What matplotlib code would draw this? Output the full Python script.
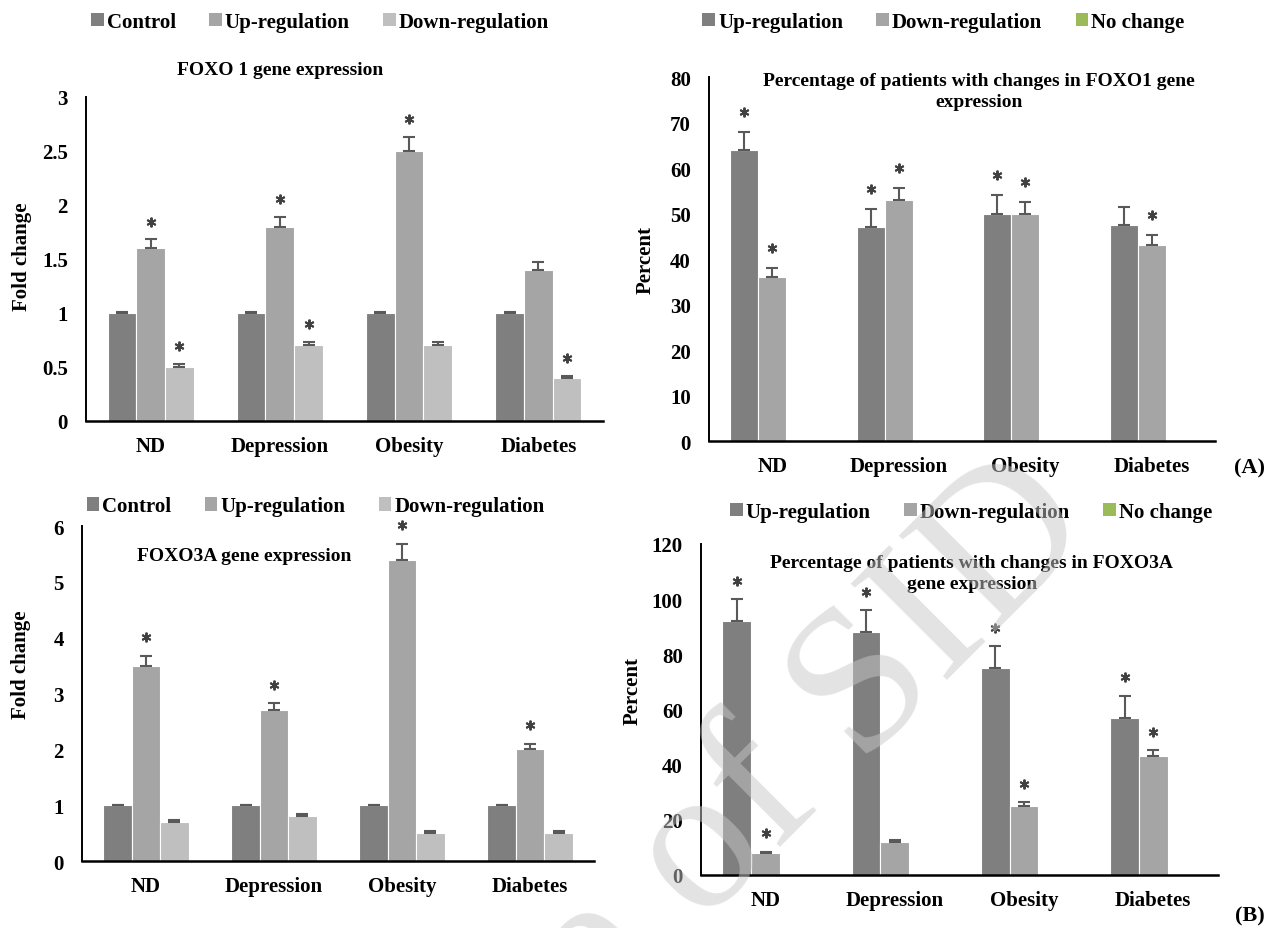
import matplotlib.pyplot as plt
import numpy as np
from matplotlib.patches import Patch

plt.rcParams['font.family'] = ['Liberation Serif', 'DejaVu Serif']
plt.rcParams['font.weight'] = 'bold'

groups = ["ND", "Depression", "Obesity", "Diabetes"]

# FOXO1 fold change
foxo1_control = [1, 1, 1, 1]
foxo1_up = [1.6, 1.8, 2.5, 1.4]
foxo1_down = [0.5, 0.7, 0.7, 0.4]
foxo1_control_err = [0.01, 0.01, 0.01, 0.01]
foxo1_up_err = [0.08, 0.09, 0.13, 0.07]
foxo1_down_err = [0.03, 0.03, 0.03, 0.02]
foxo1_stars = [[0, 0, 0, 0], [1, 1, 1, 0], [1, 1, 0, 1]]

# FOXO1 percent of patients
pct1_up = [64, 47, 50, 47.5]
pct1_down = [36, 53, 50, 43]
pct1_none = [0, 0, 0, 0]
pct1_up_err = [4, 4, 4, 4]
pct1_down_err = [2, 2.6, 2.5, 2.2]
pct1_stars = [[1, 1, 1, 0], [1, 1, 1, 1], [0, 0, 0, 0]]

# FOXO3A fold change
foxo3_control = [1, 1, 1, 1]
foxo3_up = [3.5, 2.7, 5.4, 2.0]
foxo3_down = [0.7, 0.8, 0.5, 0.5]
foxo3_control_err = [0.01, 0.01, 0.01, 0.01]
foxo3_up_err = [0.18, 0.13, 0.28, 0.1]
foxo3_down_err = [0.04, 0.04, 0.03, 0.03]
foxo3_stars = [[0, 0, 0, 0], [1, 1, 1, 1], [0, 0, 0, 0]]

# FOXO3A percent of patients
pct3_up = [92, 88, 75, 57]
pct3_down = [8, 12, 25, 43]
pct3_none = [0, 0, 0, 0]
pct3_up_err = [8, 8, 8, 8]
pct3_down_err = [0.5, 0.7, 1.5, 2.2]
pct3_stars = [[1, 1, 1, 1], [1, 0, 1, 1], [0, 0, 0, 0]]

fold_names = ["Control", "Up-regulation", "Down-regulation"]
fold_colors = ["#7f7f7f", "#a5a5a5", "#bfbfbf"]
pct_names = ["Up-regulation", "Down-regulation", "No change"]
pct_colors = ["#7f7f7f", "#a5a5a5", "#9bbb59"]

FS = 15


def draw_panel(fig, rect, series, errs, stars, names, colors, ymax, step,
               ylabel, ylabel_xy, title, title_xy, legend_xy, ticklabels=None):
    ax = fig.add_axes(rect)
    x = np.arange(len(groups))
    width = 1 / 4.5
    for i, (vals, err, st) in enumerate(zip(series, errs, stars)):
        pos = x + (i - 1) * width
        ax.bar(pos, vals, width, color=colors[i], edgecolor="white",
               linewidth=0.8, zorder=2)
        if err is not None:
            ax.errorbar(pos, vals, yerr=[np.zeros(len(err)), err], fmt="none",
                        ecolor="#595959", elinewidth=1.5, capsize=4,
                        capthick=1.5, zorder=3)
            tops = np.array(vals) + np.array(err) + ymax * 0.055
            sel = np.array(st, dtype=bool)
            ax.plot(pos[sel], tops[sel], linestyle="none", marker=(6, 2, 0),
                    markersize=7, mew=1.4, color="#404040", zorder=4,
                    clip_on=False)

    ax.set_xlim(-0.5, len(groups) - 0.5)
    ax.set_ylim(0, ymax)
    ax.set_yticks(np.arange(0, ymax + step / 2, step))
    if ticklabels is not None:
        ax.set_yticklabels(ticklabels)
    ax.set_xticks(x)
    ax.set_xticklabels(groups)
    ax.tick_params(axis="both", length=0, labelsize=FS)
    ax.tick_params(axis="x", pad=11)
    ax.tick_params(axis="y", pad=13)
    for s in ["top", "right"]:
        ax.spines[s].set_visible(False)
    ax.spines["left"].set_linewidth(1.4)
    ax.spines["bottom"].set_linewidth(1.8)
    ax.set_ylabel(ylabel, fontsize=FS, fontweight="bold")
    ax.yaxis.set_label_coords(*ylabel_xy)
    ax.text(title_xy[0], title_xy[1], title, transform=ax.transAxes,
            ha="center", va="center", fontsize=14, fontweight="bold",
            linespacing=1.35)

    handles = [Patch(facecolor=c, edgecolor="none") for c in colors]
    fig.legend(handles, names, loc="center", bbox_to_anchor=legend_xy,
               ncol=3, frameon=False, fontsize=FS, handlelength=0.6,
               handleheight=0.6, handletextpad=0.15, columnspacing=1.6)
    return ax


fig = plt.figure(figsize=(12.68, 9.29), dpi=100)

draw_panel(fig, [0.0678, 0.5458, 0.4077, 0.3488],
           [foxo1_control, foxo1_up, foxo1_down],
           [foxo1_control_err, foxo1_up_err, foxo1_down_err], foxo1_stars,
           fold_names, fold_colors, 3, 0.5, "Fold change", (-0.105, 0.51),
           "FOXO 1 gene expression", (0.375, 1.086), (0.2525, 0.975),
           ["0", "0.5", "1", "1.5", "2", "2.5", "3"])

draw_panel(fig, [0.5591, 0.5242, 0.3991, 0.3918],
           [pct1_up, pct1_down, pct1_none],
           [pct1_up_err, pct1_down_err, None], pct1_stars,
           pct_names, pct_colors, 80, 10, "Percent", (-0.105, 0.5),
           "Percentage of patients with changes in FOXO1 gene\nexpression",
           (0.534, 0.962), (0.744, 0.975))

draw_panel(fig, [0.0647, 0.0721, 0.4038, 0.3606],
           [foxo3_control, foxo3_up, foxo3_down],
           [foxo3_control_err, foxo3_up_err, foxo3_down_err], foxo3_stars,
           fold_names, fold_colors, 6, 1, "Fold change", (-0.1, 0.59),
           "FOXO3A gene expression", (0.316, 0.913), (0.249, 0.454))

draw_panel(fig, [0.5528, 0.0571, 0.4077, 0.3563],
           [pct3_up, pct3_down, pct3_none],
           [pct3_up_err, pct3_down_err, None], pct3_stars,
           pct_names, pct_colors, 120, 20, "Percent", (-0.113, 0.56),
           "Percentage of patients with changes in FOXO3A\ngene expression",
           (0.524, 0.912), (0.766, 0.448))

fig.text(0.9858, 1 - 468 / 929, "(A)", ha="center", va="center",
         fontsize=16, fontweight="bold")
fig.text(0.9858, 1 - 916 / 929, "(B)", ha="center", va="center",
         fontsize=16, fontweight="bold")

# faint watermark over the lower panels
fig.text(0.48, -0.02, "Archive of SID", rotation=45, ha="center",
         va="center", fontsize=150, color="#c8c8c8", alpha=0.5, zorder=10,
         fontweight="normal")

fig.savefig("out.png", dpi=100)
